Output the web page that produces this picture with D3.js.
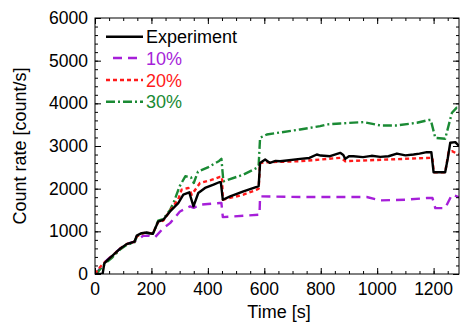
<!DOCTYPE html>
<html><head><meta charset="utf-8">
<script src="https://cdn.jsdelivr.net/npm/d3@7"></script>
<style>body{margin:0;background:#fff}svg{display:block}text{font-family:"Liberation Sans",Arial,sans-serif}</style>
</head><body><svg id="c" width="460" height="329"></svg>
<script>
const xTicks=[0,200,400,600,800,1000,1200];
const yTicks=[0,1000,2000,3000,4000,5000,6000];
const seriesNames=["Experiment","10%","20%","30%"];
const seriesColors=["#000000","#a61fd9","#ff1a1a","#1a8a34"];
const tExp=[0,27,33,45,60,90,112,140,148,165,183,205,224,242,266,295,313,334,349,366,390,420,440,446,453,479,526,573,580,585,603,620,640,656,680,727,760,786,800,833,869,880,887,900,916,950,980,1011,1040,1070,1100,1129,1150,1176,1192,1200,1241,1250,1259,1277,1290];
const vExp=[0,0,250,330,420,600,700,760,900,957,972,940,1230,1270,1466,1663,1860,1914,1585,1898,2016,2094,2150,2150,1741,1820,1937,2040,2060,2604,2682,2604,2650,2643,2660,2698,2720,2800,2776,2761,2839,2790,2698,2760,2761,2740,2770,2745,2760,2823,2780,2800,2820,2855,2855,2384,2384,2700,3075,3090,3000];
const t10=[0,10,30,45,60,90,112,140,171,190,213,242,266,301,337,350,372,400,443,448,453,579,583,585,727,800,963,1011,1100,1176,1196,1206,1241,1265,1290];
const v10=[0,60,250,340,430,600,700,760,894,900,863,1075,1192,1466,1585,1550,1624,1640,1663,1663,1333,1388,1388,1820,1804,1804,1804,1725,1740,1780,1780,1545,1545,1859,1800];
const t20=[0,10,30,45,60,90,112,140,148,165,183,205,224,242,266,295,307,331,343,372,410,443,450,453,526,573,580,585,609,660,727,798,822,869,880,887,975,1093,1188,1196,1200,1241,1253,1265,1290];
const v20=[0,100,250,330,420,600,700,760,880,950,970,950,1220,1250,1480,1750,1976,2016,1859,2133,2200,2275,2275,1741,1859,1976,2000,2600,2620,2630,2643,2682,2698,2722,2680,2643,2667,2698,2722,2722,2384,2384,2855,2878,2800];
const t30=[0,10,30,45,60,90,112,140,148,165,183,205,224,242,266,280,300,320,340,350,365,400,440,448,455,526,573,580,585,609,727,798,822,869,951,1011,1070,1141,1182,1190,1206,1241,1265,1282,1290];
const v30=[0,50,200,300,380,580,680,740,880,940,960,940,1250,1290,1500,1700,2055,2290,2270,2133,2400,2500,2650,2700,2172,2329,2486,2550,3192,3270,3388,3466,3506,3529,3560,3482,3482,3545,3608,3608,3192,3170,3780,3900,3900];

const svg=d3.select("#c");
const L=95,R=459,T=18,B=274;
const x=d3.scaleLinear().domain([0,1290]).range([L,R]);
const y=d3.scaleLinear().domain([0,6000]).range([B,T]);
const dashes=[null,"9,6","4,3","9,3,2,3"];
const data=[[tExp,vExp],[t10,v10],[t20,v20],[t30,v30]];
const line=d3.line().x(d=>x(d[0])).y(d=>y(d[1]));
svg.append("clipPath").attr("id","clp").append("rect").attr("x",L).attr("y",T).attr("width",R-L).attr("height",B-T);
const g=svg.append("g").attr("clip-path","url(#clp)");
[1,3,2,0].forEach(i=>{
  const pts=data[i][0].map((t,k)=>[t,data[i][1][k]]);
  g.append("path").attr("d",line(pts)).attr("fill","none").attr("stroke",seriesColors[i])
   .attr("stroke-width",2.4).attr("stroke-dasharray",dashes[i]).attr("stroke-linejoin","round");
});
// axes
const minX=d3.range(0,1291,50), minY=d3.range(0,6001,200);
const ax=(sel,axis)=>sel.call(axis).call(s=>s.select(".domain").remove()).selectAll("line").attr("stroke","#000");
svg.append("g").attr("transform",`translate(0,${B})`).call(g=>ax(g,d3.axisTop(x).tickValues(minX).tickSize(3).tickFormat("")));
svg.append("g").attr("transform",`translate(0,${B})`).call(g=>ax(g,d3.axisTop(x).tickValues(xTicks).tickSize(6).tickFormat("")));
svg.append("g").attr("transform",`translate(0,${T})`).call(g=>ax(g,d3.axisBottom(x).tickValues(minX).tickSize(3).tickFormat("")));
svg.append("g").attr("transform",`translate(0,${T})`).call(g=>ax(g,d3.axisBottom(x).tickValues(xTicks).tickSize(6).tickFormat("")));
svg.append("g").attr("transform",`translate(${L},0)`).call(g=>ax(g,d3.axisRight(y).tickValues(minY).tickSize(3).tickFormat("")));
svg.append("g").attr("transform",`translate(${L},0)`).call(g=>ax(g,d3.axisRight(y).tickValues(yTicks).tickSize(6).tickFormat("")));
svg.append("g").attr("transform",`translate(${R},0)`).call(g=>ax(g,d3.axisLeft(y).tickValues(minY).tickSize(3).tickFormat("")));
svg.append("g").attr("transform",`translate(${R},0)`).call(g=>ax(g,d3.axisLeft(y).tickValues(yTicks).tickSize(6).tickFormat("")));
// labels
svg.append("g").selectAll("text").data(xTicks).join("text").attr("x",d=>x(d)).attr("y",B+21).attr("text-anchor","middle")
  .attr("font-size",17.5).text(d=>d);
svg.append("g").selectAll("text").data(yTicks).join("text").attr("x",L-7).attr("y",d=>y(d)+6).attr("text-anchor","end")
  .attr("font-size",17.5).text(d=>d);
svg.append("rect").attr("x",L).attr("y",T).attr("width",R-L).attr("height",B-T).attr("fill","none").attr("stroke","#000").attr("stroke-width",1);
svg.append("text").attr("x",(L+R)/2+2).attr("y",318).attr("text-anchor","middle").attr("font-size",18).text("Time [s]");
svg.append("text").attr("transform",`translate(26,${(T+B)/2}) rotate(-90)`).attr("text-anchor","middle").attr("font-size",18).text("Count rate [count/s]");
// legend
const ly=[36.7,58,80,101.7];
seriesNames.forEach((n,i)=>{
  svg.append("line").attr("x1",i==1?113:106).attr("x2",143).attr("y1",ly[i]).attr("y2",ly[i]).attr("stroke",seriesColors[i]).attr("stroke-width",2.4).attr("stroke-dasharray",dashes[i]);
  svg.append("text").attr("x",146).attr("y",ly[i]+6.5).attr("font-size",18).attr("fill",seriesColors[i]).text(n);
});
</script></body></html>
